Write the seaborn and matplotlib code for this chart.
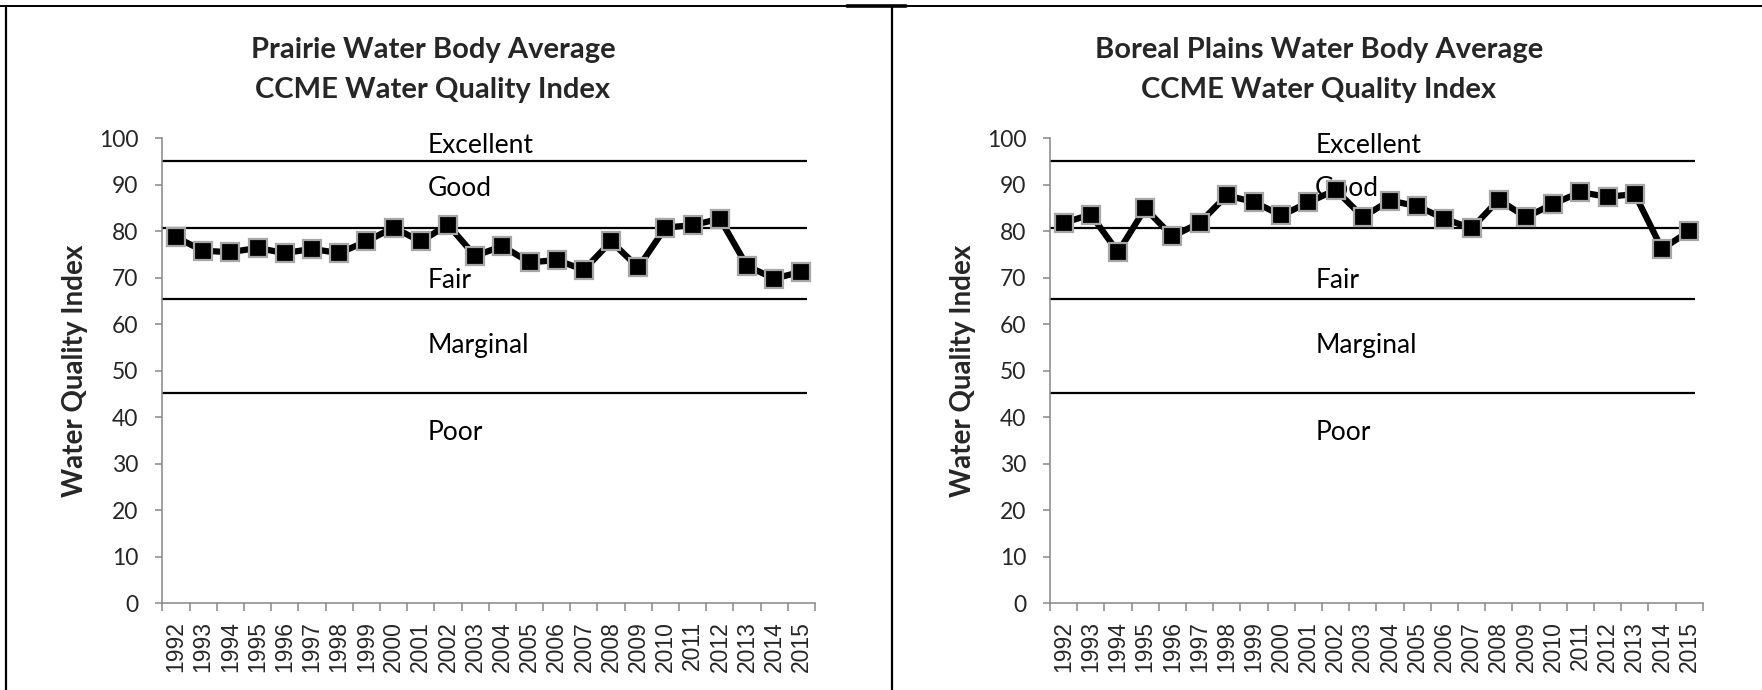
import matplotlib
matplotlib.use("Agg")
import matplotlib.pyplot as plt
from matplotlib.lines import Line2D
import seaborn as sns
import pandas as pd
import numpy as np

years = [str(y) for y in range(1992, 2016)]
prairie = [78.7, 75.8, 75.5, 76.4, 75.3, 76.2, 75.3, 77.8, 80.8, 77.8, 81.4, 74.7,
           76.8, 73.3, 73.8, 71.7, 77.8, 72.2, 80.8, 81.3, 82.7, 72.5, 69.8, 71.3]
boreal = [81.8, 83.6, 75.5, 84.9, 78.9, 81.8, 87.7, 86.3, 83.4, 86.2, 88.9, 83.1,
          86.6, 85.4, 82.7, 80.6, 86.8, 83.0, 85.9, 88.4, 87.4, 88.0, 76.2, 80.0]
titles = ["Prairie Water Body Average\nCCME Water Quality Index",
          "Boreal Plains Water Body Average\nCCME Water Quality Index"]
thresholds = [95.1, 80.7, 65.4, 45.2]
class_names = ["Excellent", "Good", "Fair", "Marginal", "Poor"]
class_label_y = [98.5, 89.1, 69.5, 55.5, 36.7]
y_ticks = list(range(0, 101, 10))
ylabel = "Water Quality Index"

sns.set_style("white")
plt.rcParams["font.family"] = ["Lato", "DejaVu Sans"]

W, H = 1762, 690
fig = plt.figure(figsize=(W / 100, H / 100), dpi=100)

axis_gray = "#868686"
panels = [(162.3, prairie, 433), (1050.0, boreal, 1319)]
for (left_px, values, title_x), title in zip(panels, titles):
    ax = fig.add_axes([left_px / W, (H - 603) / H, 652.8 / W, 464.7 / H])
    df = pd.DataFrame({"year": years, "wqi": values})
    ax.hlines(thresholds, -0.5, 23.2, colors="black", linewidth=1.6, zorder=1)
    for name, yv in zip(class_names, class_label_y):
        ax.text(9.25, yv, name, fontsize=19, ha="left", va="center", zorder=2,
                color="black")
    sns.lineplot(data=df, x="year", y="wqi", ax=ax, color="black", linewidth=4.5,
                 marker="s", markersize=13, markerfacecolor="black",
                 markeredgecolor="#A6A6A6", markeredgewidth=1.6, zorder=3)
    ax.set_xlim(-0.5, 23.5)
    ax.set_ylim(0, 100)
    ax.set_yticks(y_ticks)
    ax.set_yticklabels([str(t) for t in y_ticks], fontsize=16.5)
    ax.set_xticks(range(len(years)))
    ax.set_xticklabels(years, rotation=90, fontsize=16.5,
                       family=["Liberation Sans", "DejaVu Sans"])
    ax.set_xticks(np.arange(-0.5, len(years), 1.0), minor=True)
    ax.tick_params(axis="x", which="major", length=0, pad=13)
    ax.tick_params(axis="x", which="minor", length=5.5, width=1.1, color=axis_gray,
                   direction="out", bottom=True)
    ax.tick_params(axis="y", which="major", length=5.2, width=1.1, color=axis_gray,
                   direction="out", left=True, pad=12)
    for s in ["top", "right"]:
        ax.spines[s].set_visible(False)
    for s in ["left", "bottom"]:
        ax.spines[s].set_color(axis_gray)
        ax.spines[s].set_linewidth(1.1)
    ax.set_xlabel("")
    ax.set_ylabel(ylabel, fontsize=20, fontweight="bold", va="center")
    ax.yaxis.set_label_coords((75 - 162.3) / 652.8, 0.5)
    fig.text(title_x / W, 1 - 70 / H, title, ha="center", va="center",
             fontsize=21, fontweight="bold", linespacing=1.68)

# chart frame borders
fig.add_artist(Line2D([0, 1], [1 - 6 / H, 1 - 6 / H], color="black", linewidth=1.4,
                      transform=fig.transFigure))
fig.add_artist(Line2D([847 / W, 906 / W], [1 - 6 / H, 1 - 6 / H], color="black",
                      linewidth=2.6, transform=fig.transFigure))
fig.add_artist(Line2D([6 / W, 6 / W], [0, 1 - 6 / H], color="black", linewidth=1.6,
                      transform=fig.transFigure))
fig.add_artist(Line2D([892 / W, 892 / W], [0, 1 - 6 / H], color="black",
                      linewidth=1.6, transform=fig.transFigure))

fig.savefig("out.png", dpi=100)
